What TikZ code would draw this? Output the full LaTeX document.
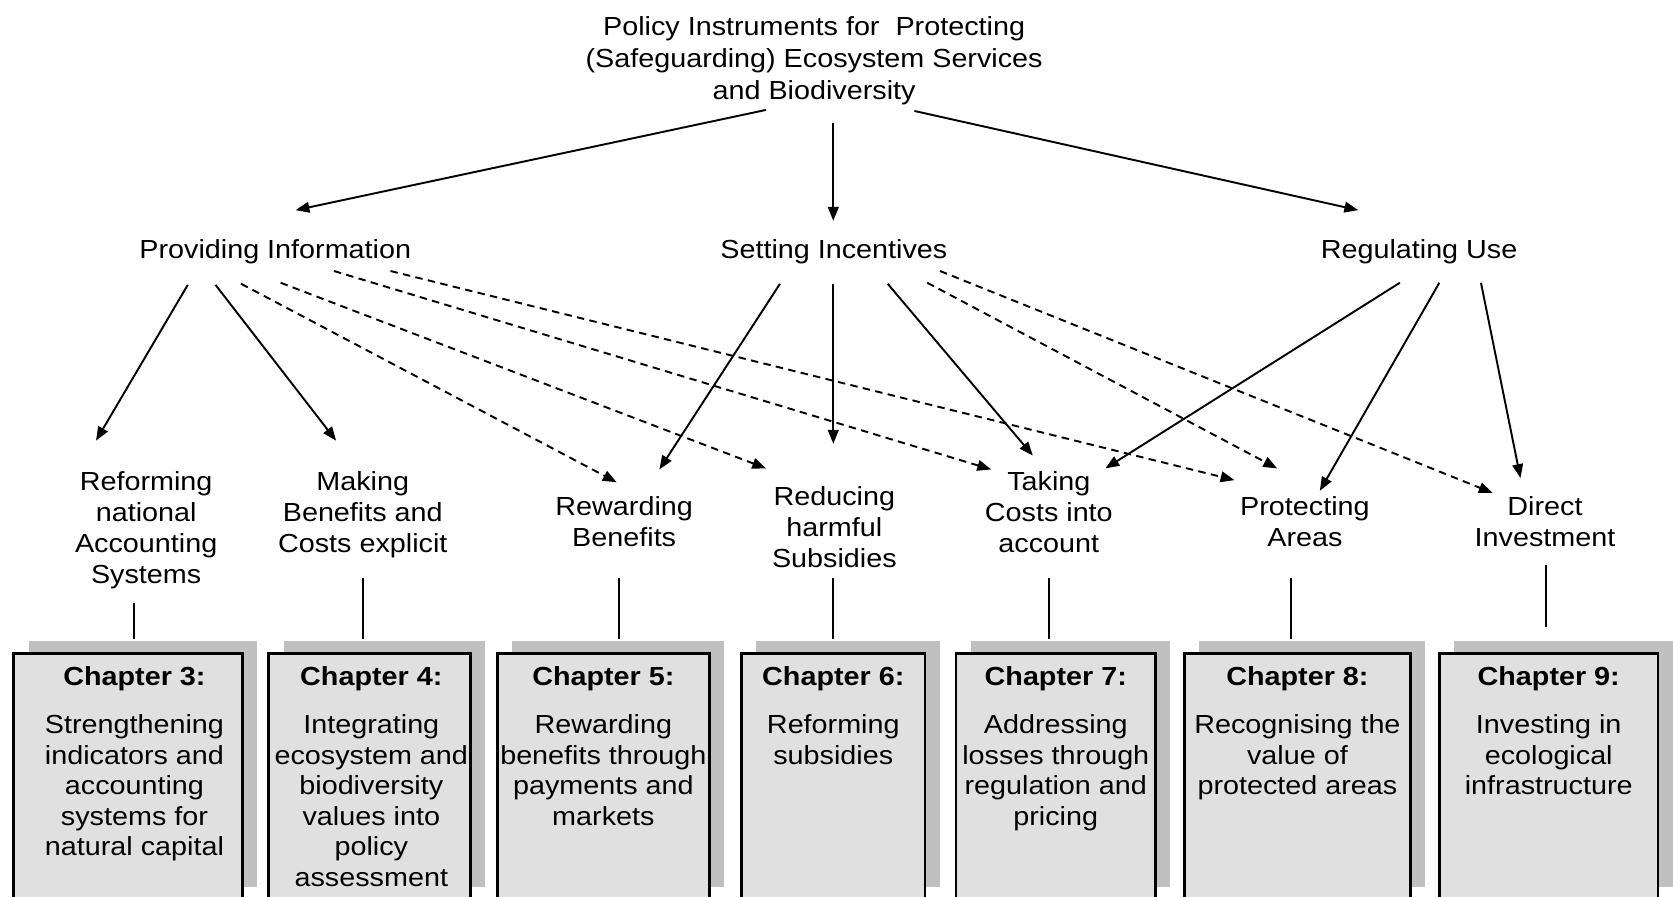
\documentclass[tikz,border=0pt]{standalone}
\usepackage{fontspec}
\setmainfont{Liberation Sans}[FakeStretch=1.1]
\usetikzlibrary{arrows.meta,shadows}
\definecolor{boxgray}{RGB}{224,224,224}
\definecolor{shadowgray}{RGB}{192,192,192}
\begin{document}
\begin{tikzpicture}[x=1pt,y=-1pt,
  lbl/.style={font=\fontsize{24.5}{29}\selectfont, align=center, inner sep=0pt, anchor=north},
  arr/.style={line width=1.8pt, -{Triangle[length=13pt,width=10pt]}},
  darr/.style={arr, dash pattern=on 7pt off 5pt},
  chbox/.style={draw=black, line width=2.6pt, fill=boxgray, minimum height=231pt, anchor=north, inner sep=0pt,
    general shadow={fill=shadowgray, shadow xshift=14pt, shadow yshift=12pt}},
  chtext/.style={font=\fontsize{24.5}{28.7}\selectfont, align=center, inner sep=0pt, anchor=north},
  link/.style={line width=1.8pt}]
\clip (0,0) rectangle (1568,840);
% title
\node[lbl, font=\fontsize{24.5}{30}\selectfont] (title) at (763,15.2) {Policy Instruments for\ \ Protecting\\(Safeguarding) Ecosystem Services\\and Biodiversity};
% level 2
\node[lbl] (pi) at (258,224.4) {Providing Information};
\node[lbl] (si) at (781.5,224.4) {Setting Incentives};
\node[lbl] (ru) at (1330,224.4) {Regulating Use};
% level 3
\node[lbl] (rn) at (137,441.7) {Reforming\\national\\Accounting\\Systems};
\node[lbl] (mb) at (340,442) {Making\\Benefits and\\Costs explicit};
\node[lbl] (rb) at (585,465) {Rewarding\\Benefits};
\node[lbl] (rh) at (782,455.5) {Reducing\\harmful\\Subsidies};
\node[lbl] (tc) at (983,441.5) {Taking\\Costs into\\account};
\node[lbl] (pa) at (1223,465) {Protecting\\Areas};
\node[lbl] (di) at (1448,465) {Direct\\Investment};
% chapter boxes
\node[chbox, minimum width=214pt] (ch3) at (120,611) {};
\node[chbox, minimum width=189pt] (ch4) at (346.5,611) {};
\node[chbox, minimum width=199pt] (ch5) at (565.5,611) {};
\node[chbox, minimum width=172pt] (ch6) at (781,611) {};
\node[chbox, minimum width=187pt] (ch7) at (989.5,611) {};
\node[chbox, minimum width=212pt] (ch8) at (1216,611) {};
\node[chbox, minimum width=205pt] (ch9) at (1451.5,611) {};
\node[chtext] (ch3t) at (126,624.4) {\textbf{Chapter 3:}\\[16.3pt]Strengthening\\indicators and\\accounting\\systems for\\natural capital};
\node[chtext] (ch4t) at (348,624.4) {\textbf{Chapter 4:}\\[16.3pt]Integrating\\ecosystem and\\biodiversity\\values into\\policy\\assessment};
\node[chtext] (ch5t) at (565.5,624.4) {\textbf{Chapter 5:}\\[16.3pt]Rewarding\\benefits through\\payments and\\markets};
\node[chtext] (ch6t) at (781,624.4) {\textbf{Chapter 6:}\\[16.3pt]Reforming\\subsidies};
\node[chtext] (ch7t) at (989.5,624.4) {\textbf{Chapter 7:}\\[16.3pt]Addressing\\losses through\\regulation and\\pricing};
\node[chtext] (ch8t) at (1216,624.4) {\textbf{Chapter 8:}\\[16.3pt]Recognising the\\value of\\protected areas};
\node[chtext] (ch9t) at (1451.5,624.4) {\textbf{Chapter 9:}\\[16.3pt]Investing in\\ecological\\infrastructure};
% title arrows
\draw[arr] ([shift={(-45,87.8)}]title.north) -- ([shift={(19,-27.4)}]pi.north);
\draw[arr] ([shift={(18,99.8)}]title.north) -- ([shift={(-0.5,-17.4)}]si.north);
\draw[arr] ([shift={(94,88.8)}]title.north) -- ([shift={(-57,-27.4)}]ru.north);
% providing information
\draw[arr] ([shift={(-82,42.6)}]pi.north) -- ([shift={(-47,-28.7)}]rn.north);
\draw[arr] ([shift={(-56,42.6)}]pi.north) -- ([shift={(-25,-29)}]mb.north);
\draw[darr] ([shift={(-32,41.6)}]pi.north) -- ([shift={(-7,-13)}]rb.north);
\draw[darr] ([shift={(5,40.6)}]pi.north) -- ([shift={(-64,-16.5)}]rh.north);
\draw[darr] ([shift={(55,29.6)}]pi.north) -- ([shift={(-54,-1.5)}]tc.north);
\draw[darr] ([shift={(108,29.6)}]pi.north) -- ([shift={(-66,-15)}]pa.north);
% setting incentives
\draw[arr] ([shift={(-50.5,41.6)}]si.north) -- ([shift={(33,-25)}]rb.north);
\draw[arr] ([shift={(-0.5,41.6)}]si.north) -- ([shift={(-1,-39.5)}]rh.north);
\draw[arr] ([shift={(50.5,41.6)}]si.north) -- ([shift={(-15,-14.5)}]tc.north);
\draw[darr] ([shift={(87.5,40.6)}]si.north) -- ([shift={(-26,-26)}]pa.north);
\draw[darr] ([shift={(99.5,29.6)}]si.north) -- ([shift={(-49,-3)}]di.north);
% regulating use
\draw[arr] ([shift={(-18,40.6)}]ru.north) -- ([shift={(53,-2.5)}]tc.north);
\draw[arr] ([shift={(19,40.6)}]ru.north) -- ([shift={(14,-5)}]pa.north);
\draw[arr] ([shift={(58,40.6)}]ru.north) -- ([shift={(-23,-17)}]di.north);
% links to chapters
\draw[link] ([shift={(-11,123.3)}]rn.north) -- ([shift={(6,-12)}]ch3.north);
\draw[link] ([shift={(0,100)}]mb.north) -- ([shift={(-6.5,-12)}]ch4.north);
\draw[link] ([shift={(-5,77)}]rb.north) -- ([shift={(14.5,-12)}]ch5.north);
\draw[link] ([shift={(-1,86.5)}]rh.north) -- ([shift={(0,-12)}]ch6.north);
\draw[link] ([shift={(0,100.5)}]tc.north) -- ([shift={(-6.5,-12)}]ch7.north);
\draw[link] ([shift={(-13,77)}]pa.north) -- ([shift={(-6,-12)}]ch8.north);
\draw[link] ([shift={(1,65)}]di.north) -- ([shift={(-2.5,-23)}]ch9.north);
\end{tikzpicture}
\end{document}
